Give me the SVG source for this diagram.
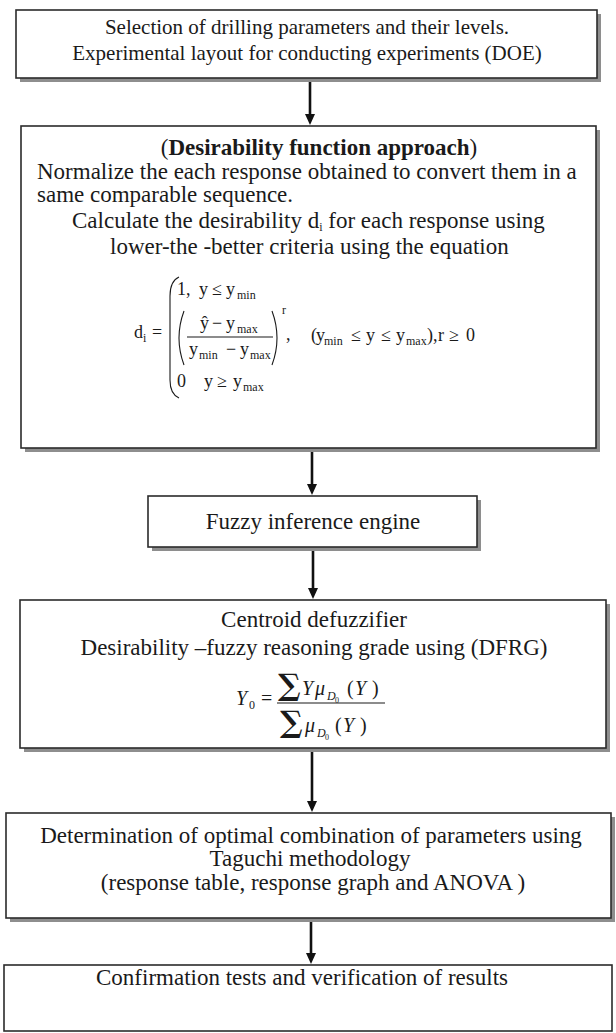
<svg xmlns="http://www.w3.org/2000/svg" width="616" height="1033" viewBox="0 0 616 1033">
  <style>
    .shadow { fill: #8e8e8e; }
    .box { fill: #ffffff; stroke: #2b2b2b; stroke-width: 1.6; }
    .t { font-family: "Liberation Serif", "Times New Roman", serif; font-size: 23px; fill: #1a1a1a; }
    .t1 { font-size: 21px; }
    .eq { font-family: "Liberation Serif", "Times New Roman", serif; font-size: 18px; fill: #1a1a1a; }
    .fx { font-family: "Liberation Serif", "Times New Roman", serif; font-size: 20px; fill: #1a1a1a; }
    .sm { font-size: 12px; }
    .xs { font-size: 8px; }
    .it { font-style: italic; }
    .sum { font-family: "DejaVu Serif", serif; font-size: 30px; font-weight: bold; fill: #1a1a1a; }
    .rule { stroke: #1a1a1a; stroke-width: 1.1; fill: none; }
    .conn line { stroke: #111111; stroke-width: 2.6; }
  </style>
  <defs>
    <marker id="ah" markerUnits="userSpaceOnUse" markerWidth="12" markerHeight="10" refX="2" refY="5" orient="auto">
      <path d="M0,0 L11,5 L0,10 Z" fill="#111111"/>
    </marker>
  </defs>
  <rect width="616" height="1033" fill="#ffffff"/>

  <!-- Step 1: parameters and DOE -->
  <g id="node-doe">
    <rect class="shadow" x="20" y="14" width="581" height="68"/>
    <rect class="box" x="16" y="10" width="581" height="68"/>
    <text class="t t1" x="307" y="34" text-anchor="middle">Selection of drilling parameters and their levels.</text>
    <text class="t t1" x="307" y="60" text-anchor="middle">Experimental layout for conducting experiments (DOE)</text>
  </g>

  <!-- Step 2: desirability function -->
  <g id="node-desirability">
    <rect class="shadow" x="25" y="130" width="575" height="322"/>
    <rect class="box" x="21" y="126" width="575" height="322"/>
    <text class="t" x="319" y="155" text-anchor="middle">(<tspan font-weight="bold">Desirability function approach</tspan>)</text>
    <text class="t" x="37" y="179">Normalize the each response obtained to convert them in a</text>
    <text class="t" x="37" y="202">same comparable sequence.</text>
    <text class="t" x="72" y="228">Calculate the desirability  d<tspan class="sm" dy="3">i</tspan><tspan dy="-3"> for each response using</tspan></text>
    <text class="t" x="110" y="254">lower-the -better criteria using the equation</text>

    <!-- piecewise definition of d_i -->
    <text class="eq" x="134" y="338">d<tspan class="sm" dy="4">i</tspan></text>
    <text class="eq" x="152" y="338">=</text>
    <path class="rule" d="M179,277 Q170,281 170,296 L170,380 Q170,394 179,398"/>
    <!-- case 1 -->
    <text class="eq" x="177" y="295">1,</text>
    <text class="eq" x="199" y="295">y</text>
    <text class="eq" x="212" y="295">≤</text>
    <text class="eq" x="226" y="295">y</text>
    <text class="eq sm" x="237" y="299">min</text>
    <!-- case 2 -->
    <path class="rule" d="M184,311 Q174,338 184,365"/>
    <text class="eq" x="200" y="329">ŷ</text>
    <text class="eq" x="212" y="329">−</text>
    <text class="eq" x="226" y="329">y</text>
    <text class="eq sm" x="237" y="333">max</text>
    <line class="rule" x1="187" y1="337" x2="273" y2="337"/>
    <text class="eq" x="189" y="355">y</text>
    <text class="eq sm" x="199" y="359">min</text>
    <text class="eq" x="226" y="355">−</text>
    <text class="eq" x="240" y="355">y</text>
    <text class="eq sm" x="250" y="359">max</text>
    <path class="rule" d="M272,311 Q282,338 272,365"/>
    <text class="eq sm" x="282" y="314">r</text>
    <text class="eq" x="286" y="340">,</text>
    <text class="eq" x="311" y="341">(</text>
    <text class="eq" x="316" y="341">y</text>
    <text class="eq sm" x="324" y="345">min</text>
    <text class="eq" x="351" y="341">≤</text>
    <text class="eq" x="366" y="341">y</text>
    <text class="eq" x="381" y="341">≤</text>
    <text class="eq" x="396" y="341">y</text>
    <text class="eq sm" x="406" y="345">max</text>
    <text class="eq" x="427" y="341">),</text>
    <text class="eq" x="438" y="341">r</text>
    <text class="eq" x="449" y="341">≥</text>
    <text class="eq" x="466" y="341">0</text>
    <!-- case 3 -->
    <text class="eq" x="177" y="387">0</text>
    <text class="eq" x="204" y="387">y</text>
    <text class="eq" x="217" y="387">≥</text>
    <text class="eq" x="233" y="387">y</text>
    <text class="eq sm" x="243" y="391">max</text>
  </g>

  <!-- Step 3: inference -->
  <g id="node-inference">
    <rect class="shadow" x="152" y="500" width="329" height="51"/>
    <rect class="box" x="148" y="496" width="329" height="51"/>
    <text class="t" x="313" y="529" text-anchor="middle">Fuzzy inference engine</text>
  </g>

  <!-- Step 4: defuzzification -->
  <g id="node-defuzzifier">
    <rect class="shadow" x="24" y="604" width="586" height="148"/>
    <rect class="box" x="20" y="600" width="586" height="148"/>
    <text class="t" x="314" y="627" text-anchor="middle">Centroid defuzzifier</text>
    <text class="t" x="314" y="655" text-anchor="middle">Desirability –fuzzy reasoning grade using (DFRG)</text>
    <!-- centroid formula -->
    <text class="fx it" x="236" y="705">Y</text>
    <text class="fx sm" x="249" y="709">0</text>
    <text class="fx" x="261" y="705">=</text>
    <line class="rule" x1="277" y1="703" x2="385" y2="703"/>
    <text class="sum" x="278" y="695">∑</text>
    <text class="fx it" x="302" y="695">Y</text>
    <text class="fx it" x="315" y="695">μ</text>
    <text class="fx it sm" x="327" y="700">D</text>
    <text class="fx xs" x="335" y="703">0</text>
    <text class="fx" x="347" y="695">(</text>
    <text class="fx it" x="355" y="695">Y</text>
    <text class="fx" x="372" y="695">)</text>
    <text class="sum" x="280" y="732">∑</text>
    <text class="fx it" x="305" y="732">μ</text>
    <text class="fx it sm" x="317" y="737">D</text>
    <text class="fx xs" x="325" y="740">0</text>
    <text class="fx" x="335" y="732">(</text>
    <text class="fx it" x="343" y="732">Y</text>
    <text class="fx" x="360" y="732">)</text>
  </g>

  <!-- Step 5: Taguchi optimisation -->
  <g id="node-taguchi">
    <rect class="shadow" x="10" y="817" width="605" height="105"/>
    <rect class="box" x="6" y="813" width="605" height="105"/>
    <text class="t" x="311" y="843" text-anchor="middle">Determination of optimal combination of parameters using</text>
    <text class="t" x="310" y="866" text-anchor="middle">Taguchi methodology</text>
    <text class="t" x="313" y="890" text-anchor="middle">(response table, response graph and ANOVA )</text>
  </g>

  <!-- Step 6: confirmation -->
  <g id="node-confirmation">
    <rect class="box" x="4" y="965" width="608" height="66"/>
    <text class="t" x="302" y="985" text-anchor="middle">Confirmation tests and verification of results</text>
  </g>

  <!-- connectors -->
  <g class="conn" id="connectors">
    <line x1="310" y1="82" x2="310" y2="116" marker-end="url(#ah)"/>
    <line x1="312" y1="452" x2="312" y2="486" marker-end="url(#ah)"/>
    <line x1="313" y1="551" x2="313" y2="590" marker-end="url(#ah)"/>
    <line x1="312" y1="752" x2="312" y2="803" marker-end="url(#ah)"/>
    <line x1="311" y1="922" x2="311" y2="955" marker-end="url(#ah)"/>
  </g>
</svg>
